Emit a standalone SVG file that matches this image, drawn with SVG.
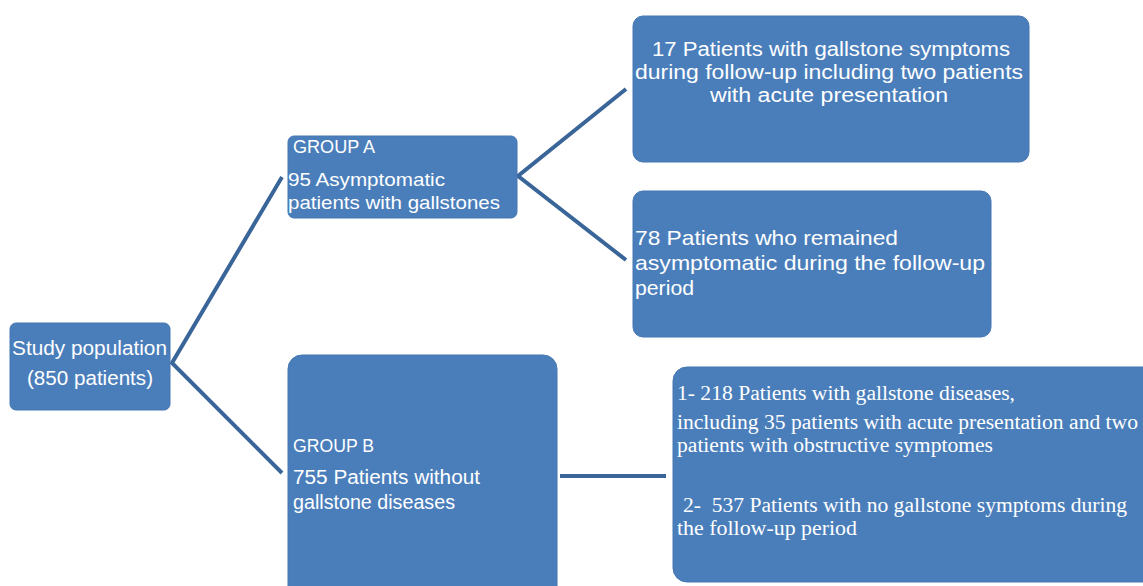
<svg xmlns="http://www.w3.org/2000/svg" width="1143" height="586" viewBox="0 0 1143 586">
<style>
.box{fill:#4a7ebb;stroke:#4577b3;stroke-width:1}
.t{font-family:"Liberation Sans","DejaVu Sans",sans-serif;fill:#ffffff}
.s{font-family:"Liberation Serif","DejaVu Serif",serif;fill:#ffffff;font-size:20px}
.c{fill:none;stroke:#3a6599;stroke-width:4;stroke-linejoin:miter}
</style>
<rect width="1143" height="586" fill="#ffffff"/>
<g id="connectors">
<polyline class="c" points="282,177 172,363 282,473"/>
<polyline class="c" points="626,89 518,176 626,260"/>
<line class="c" x1="560" y1="476" x2="666" y2="476"/>
</g>
<g id="study">
<rect class="box" x="10" y="323" width="160" height="87" rx="6"/>
<text class="t" font-size="20" x="12" y="355" textLength="155" lengthAdjust="spacingAndGlyphs">Study population</text>
<text class="t" font-size="20" x="27" y="385" textLength="126" lengthAdjust="spacingAndGlyphs">(850 patients)</text>
</g>
<g id="groupA">
<rect class="box" x="288" y="136" width="229" height="82" rx="6"/>
<text class="t" font-size="18" x="293" y="153" textLength="82" lengthAdjust="spacingAndGlyphs">GROUP A</text>
<text class="t" font-size="19" x="288" y="186" textLength="157" lengthAdjust="spacingAndGlyphs">95 Asymptomatic</text>
<text class="t" font-size="19" x="288" y="209" textLength="212" lengthAdjust="spacingAndGlyphs">patients with gallstones</text>
</g>
<g id="symptomatic">
<rect class="box" x="633" y="16" width="396" height="146" rx="10"/>
<text class="t" font-size="20" x="652" y="56" textLength="358" lengthAdjust="spacingAndGlyphs">17 Patients with gallstone symptoms</text>
<text class="t" font-size="20" x="635" y="79" textLength="388" lengthAdjust="spacingAndGlyphs">during follow-up including two patients</text>
<text class="t" font-size="20" x="710" y="102" textLength="238" lengthAdjust="spacingAndGlyphs">with acute presentation</text>
</g>
<g id="asymptomatic">
<rect class="box" x="633" y="191" width="358" height="146" rx="10"/>
<text class="t" font-size="21" x="635" y="245" textLength="263" lengthAdjust="spacingAndGlyphs">78 Patients who remained</text>
<text class="t" font-size="21" x="635" y="270" textLength="350" lengthAdjust="spacingAndGlyphs">asymptomatic during the follow-up</text>
<text class="t" font-size="21" x="635" y="295" textLength="59" lengthAdjust="spacingAndGlyphs">period</text>
</g>
<g id="groupB">
<rect class="box" x="288" y="355" width="269" height="245" rx="14"/>
<text class="t" font-size="18" x="293" y="452" textLength="81" lengthAdjust="spacingAndGlyphs">GROUP B</text>
<text class="t" font-size="20" x="293" y="484" textLength="187" lengthAdjust="spacingAndGlyphs">755 Patients without</text>
<text class="t" font-size="20" x="293" y="509" textLength="162" lengthAdjust="spacingAndGlyphs">gallstone diseases</text>
</g>
<g id="outcomesB">
<rect class="box" x="673" y="367" width="490" height="215" rx="14"/>
<text class="s" x="677" y="400" textLength="338" lengthAdjust="spacingAndGlyphs">1- 218 Patients with gallstone diseases,</text>
<text class="s" x="677" y="429" textLength="461" lengthAdjust="spacingAndGlyphs">including 35 patients with acute presentation and two</text>
<text class="s" x="677" y="452" textLength="316" lengthAdjust="spacingAndGlyphs">patients with obstructive symptomes</text>
<text class="s" x="683" y="512" textLength="444" lengthAdjust="spacingAndGlyphs" xml:space="preserve">2-  537 Patients with no gallstone symptoms during</text>
<text class="s" x="677" y="535" textLength="180" lengthAdjust="spacingAndGlyphs">the follow-up period</text>
</g>
</svg>
